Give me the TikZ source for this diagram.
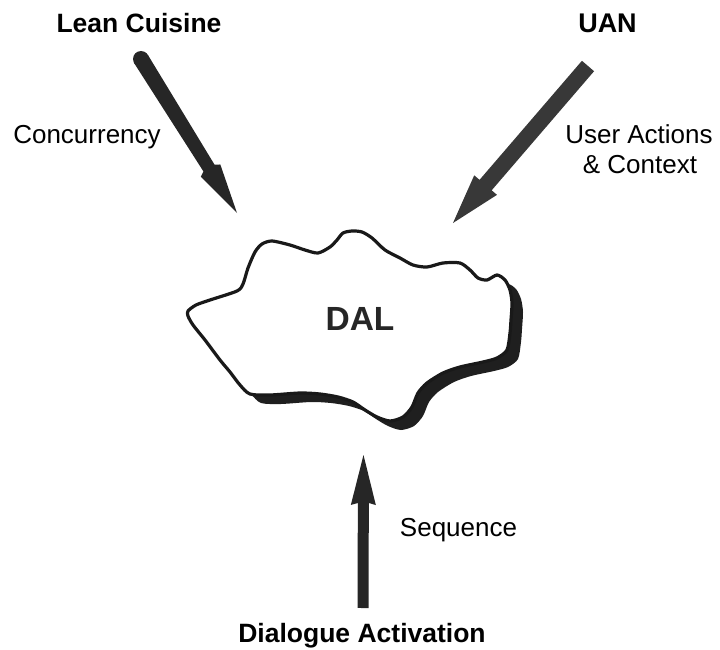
\documentclass[tikz,border=0pt]{standalone}
\usepackage{fontspec}
\setmainfont{Liberation Sans}
\usetikzlibrary{calc}

\tikzset{
  lbl/.style={anchor=base, inner sep=0pt, font=\fontsize{26}{30}\selectfont},
  heading/.style={anchor=base, inner sep=0pt, font=\fontsize{26.5}{30}\selectfont\bfseries},
  cloudline/.style={line width=3.2pt, line join=round},
}

% fat arrow: tail, tip, tail half-width, shaft half-width at head,
% shaft end (distance from tip), barb (distance from tip), barb half-width, colour
\newcommand{\fatarrow}[8]{%
  \coordinate (fa-b) at ($(#2)!#5!(#1)$);
  \coordinate (fa-c) at ($(#2)!#6!(#1)$);
  \fill[#8] ($(#1)!#3!90:(#2)$) -- ($(fa-b)!#4!90:(#2)$) -- ($(fa-c)!#7!90:(#2)$)
    -- (#2) -- ($(fa-c)!#7!-90:(#2)$) -- ($(fa-b)!#4!-90:(#2)$)
    -- ($(#1)!#3!-90:(#2)$) -- cycle;
}

\begin{document}
\begin{tikzpicture}[x=1pt, y=-1pt]
  \useasboundingbox (0,0) rectangle (720,650);

  % labels
  \node[heading] (lean) at (139,33) {Lean Cuisine};
  \node[heading, font=\fontsize{27}{30}\selectfont\bfseries] (uan) at (607.5,33) {UAN};
  \node[lbl] (conc) at (87,143) {Concurrency};
  \node[lbl] (useract) at (639,143) {User Actions};
  \node[lbl] (context) at (640,173) {\& Context};
  \node[lbl] (seq) at (458.5,536) {Sequence};
  \node[heading] (dialog) at (362,642) {Dialogue Activation};

  % drop shadow of the DAL cloud
  \begin{scope}[shift={(11,9)}]
    \fill[black!88] plot[smooth cycle, tension=0.45] coordinates {
      (188,311) (196,305) (210,300) (237,291) (243,284) (248,268) (255,252)
      (262,244) (272,241) (290,245) (305,250) (318,253) (330,247) (337,240)
      (343,233) (352,231) (362,232) (372,238) (385,250) (400,258) (413,265)
      (427,267) (443,263) (460,263) (470,270) (478,278) (487,280) (497,275)
      (505,280) (510,290) (512,303) (511,320) (510,333) (507,350) (497,358)
      (483,362) (460,367) (443,373) (427,383) (418,393) (412,407) (403,417)
      (390,421) (377,417) (365,410) (353,402) (338,397) (320,394) (300,393)
      (270,395) (250,394) (240,385) (230,372) (220,360) (205,340) (193,325)
      (188,316)};
  \end{scope}
  % the DAL cloud
  \draw[cloudline, draw=black!90, fill=white] plot[smooth cycle, tension=0.45] coordinates {
      (188,311) (196,305) (210,300) (237,291) (243,284) (248,268) (255,252)
      (262,244) (272,241) (290,245) (305,250) (318,253) (330,247) (337,240)
      (343,233) (352,231) (362,232) (372,238) (385,250) (400,258) (413,265)
      (427,267) (443,263) (460,263) (470,270) (478,278) (487,280) (497,275)
      (505,280) (510,290) (512,303) (511,320) (510,333) (507,350) (497,358)
      (483,362) (460,367) (443,373) (427,383) (418,393) (412,407) (403,417)
      (390,421) (377,417) (365,410) (353,402) (338,397) (320,394) (300,393)
      (270,395) (250,394) (240,385) (230,372) (220,360) (205,340) (193,325)
      (188,316)};
  \node[anchor=base, inner sep=0pt, font=\fontsize{33.5}{36}\selectfont\bfseries, text=black!85] (dal) at (360,330) {DAL};

  % arrow end points
  \coordinate (lcT) at (141,59);
  \coordinate (lcH) at (237,213);
  \coordinate (uaT) at (588,66);
  \coordinate (uaH) at (453,223);
  \coordinate (daT) at (363,608);
  \coordinate (daH) at (363.5,455);

  % Lean Cuisine -> DAL
  \fill[black!85] (lcT) circle (8pt);
  \fatarrow{lcT}{lcH}{8pt}{6.5pt}{53pt}{50pt}{11.5pt}{black!85}
  % UAN -> DAL
  \fatarrow{uaT}{uaH}{8pt}{8pt}{50pt}{50pt}{15pt}{black!78}
  % Dialogue Activation -> DAL
  \fatarrow{daT}{daH}{5.5pt}{5.5pt}{48pt}{50pt}{12.5pt}{black!85}
\end{tikzpicture}
\end{document}
